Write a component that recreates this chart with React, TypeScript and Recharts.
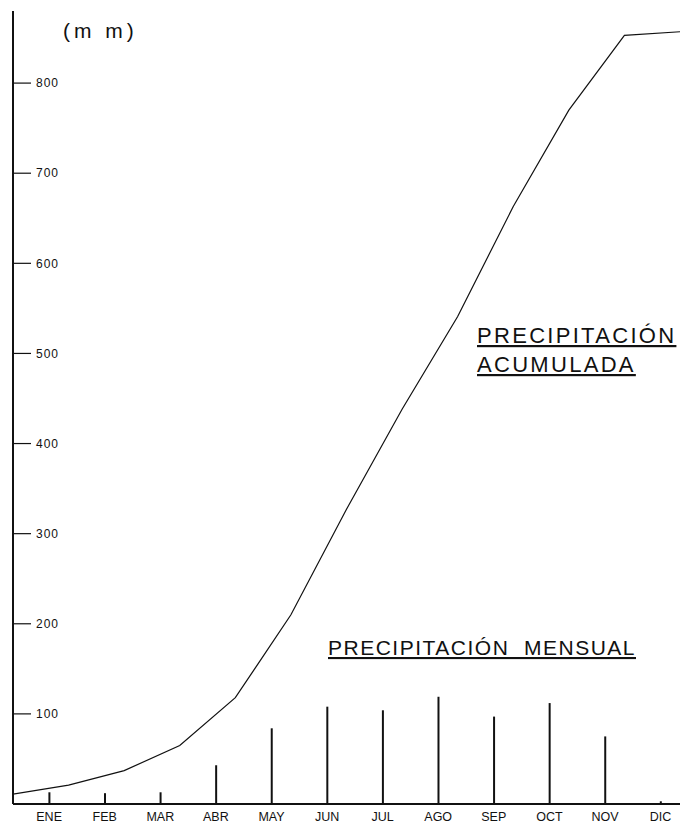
import { Bar, ComposedChart, Line, XAxis, YAxis } from 'recharts';

// precipitación por mes (mm)
const months = ['ENE', 'FEB', 'MAR', 'ABR', 'MAY', 'JUN', 'JUL', 'AGO', 'SEP', 'OCT', 'NOV', 'DIC'];
const monthly = [13, 12, 13, 43, 84, 108, 104, 119, 97, 112, 75, 3];
// acumulada, leída al final de cada mes (índice 0 = inicio del año)
const cumulative = [11, 21, 37, 65, 118, 210, 327, 438, 541, 663, 770, 853, 857];
const yTicks = [100, 200, 300, 400, 500, 600, 700, 800];

const BAR_POS = 0.65;
const FONT = '"Liberation Sans", Arial, sans-serif';
const INK = '#111';

const monthlyData = monthly.map((v, i) => ({ t: i + BAR_POS, mensual: v }));
const cumulativeData = cumulative.map((v, i) => ({ t: i, acumulada: v }));

export default function App() {
  return (
    <div style={{ position: 'absolute', left: 0, top: 0, width: 680, height: 826, background: '#fff' }}>
      <ComposedChart
        width={680}
        height={826}
        data={monthlyData}
        margin={{ top: 11, right: 0, bottom: 0, left: 13 }}
      >
        <XAxis
          type="number"
          dataKey="t"
          domain={[0, 12]}
          allowDataOverflow
          ticks={monthlyData.map((d) => d.t)}
          tickFormatter={(v: number) => months[Math.round(v - BAR_POS)]}
          height={22}
          tickLine={false}
          axisLine={{ stroke: INK, strokeWidth: 2 }}
          tick={{ fontSize: 12.5, fill: INK, fontFamily: FONT }}
        />
        <YAxis
          type="number"
          domain={[0, 880]}
          ticks={yTicks}
          mirror
          tickSize={18}
          tickMargin={5}
          axisLine={{ stroke: INK, strokeWidth: 2 }}
          tickLine={{ stroke: INK, strokeWidth: 1.2 }}
          tick={{ fontSize: 12, fill: INK, fontFamily: FONT, letterSpacing: 1 }}
        />
        <Bar dataKey="mensual" fill={INK} barSize={2} isAnimationActive={false} />
        <Line
          data={cumulativeData}
          dataKey="acumulada"
          type="linear"
          stroke={INK}
          strokeWidth={1.2}
          dot={false}
          activeDot={false}
          isAnimationActive={false}
        />
      </ComposedChart>
      <svg
        width={680}
        height={826}
        style={{ position: 'absolute', left: 0, top: 0, pointerEvents: 'none' }}
        fontFamily={FONT}
        fill={INK}
      >
        <text x={63} y={38} fontSize={21} letterSpacing={4}>
          (m m)
        </text>
        <text x={477} y={343} fontSize={22} letterSpacing={2.3} textDecoration="underline">
          PRECIPITACIÓN
        </text>
        <text x={477} y={372} fontSize={22} letterSpacing={2.3} textDecoration="underline">
          ACUMULADA
        </text>
        <text x={328} y={655} fontSize={21} letterSpacing={1.5} textDecoration="underline" style={{ whiteSpace: 'pre' }}>
          PRECIPITACIÓN  MENSUAL
        </text>
      </svg>
    </div>
  );
}
